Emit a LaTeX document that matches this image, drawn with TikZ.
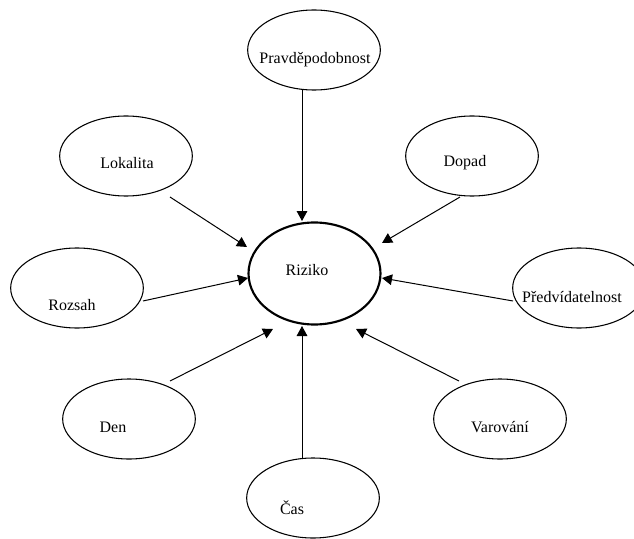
\documentclass[tikz,border=0pt]{standalone}
\usepackage{fontspec}
\setmainfont{Liberation Serif}
\usetikzlibrary{shapes.geometric,arrows.meta}
\begin{document}
\begin{tikzpicture}[x=0.75pt,y=-0.75pt,
  factor/.style={ellipse,draw=black,line width=0.8pt,minimum width=99.5pt,minimum height=60pt,inner sep=0pt},
  core/.style={ellipse,draw=black,line width=1.6pt,minimum width=99pt,minimum height=76.5pt,inner sep=0pt},
  lbl/.style={font=\fontsize{12}{14}\selectfont,inner sep=0pt},
  link/.style={draw=black,line width=0.75pt,-{Triangle[length=7.5pt,width=8pt]}}]
\useasboundingbox (0,0) rectangle (634,538);

% ellipses
\node[core]   (riz)  at (314.5,273.5) {};
\node[factor] (prav) at (314,50)  {};
\node[factor] (lok)  at (126,156) {};
\node[factor] (dop)  at (472,156) {};
\node[factor] (roz)  at (77,288)  {};
\node[factor] (pred) at (579,288) {};
\node[factor] (den)  at (129,419) {};
\node[factor] (var)  at (500,419) {};
\node[factor] (cas)  at (313,498) {};

% texts
\node[lbl] (rizT)  at (307,270) {Riziko};
\node[lbl] (pravT) at (315,60)  {Pravděpodobnost};
\node[lbl] (lokT)  at (127,163) {Lokalita};
\node[lbl] (dopT)  at (465,163) {Dopad};
\node[lbl] (rozT)  at (72,305)  {Rozsah};
\node[lbl] (predT) at (572,297) {Předvídatelnost};
\node[lbl] (denT)  at (113,427) {Den};
\node[lbl] (varT)  at (500,427) {Varování};
\node[lbl] (casT)  at (292,508) {Čas};

% connector ends
\coordinate (pravS) at (302,90);  \coordinate (pravE) at (302,221);
\coordinate (lokS)  at (170,197); \coordinate (lokE)  at (247,247);
\coordinate (dopS)  at (460,197); \coordinate (dopE)  at (382,243);
\coordinate (rozS)  at (143,301); \coordinate (rozE)  at (248,278);
\coordinate (predS) at (513,301); \coordinate (predE) at (382,278);
\coordinate (denS)  at (170,381); \coordinate (denE)  at (273,329);
\coordinate (varS)  at (459,381); \coordinate (varE)  at (356,329);
\coordinate (casS)  at (302,459); \coordinate (casE)  at (302,326);

\draw[link] (pravS) -- (pravE);
\draw[link] (lokS) -- (lokE);
\draw[link] (dopS) -- (dopE);
\draw[link] (rozS) -- (rozE);
\draw[link] (predS) -- (predE);
\draw[link] (denS) -- (denE);
\draw[link] (varS) -- (varE);
\draw[link] (casS) -- (casE);
\end{tikzpicture}
\end{document}
